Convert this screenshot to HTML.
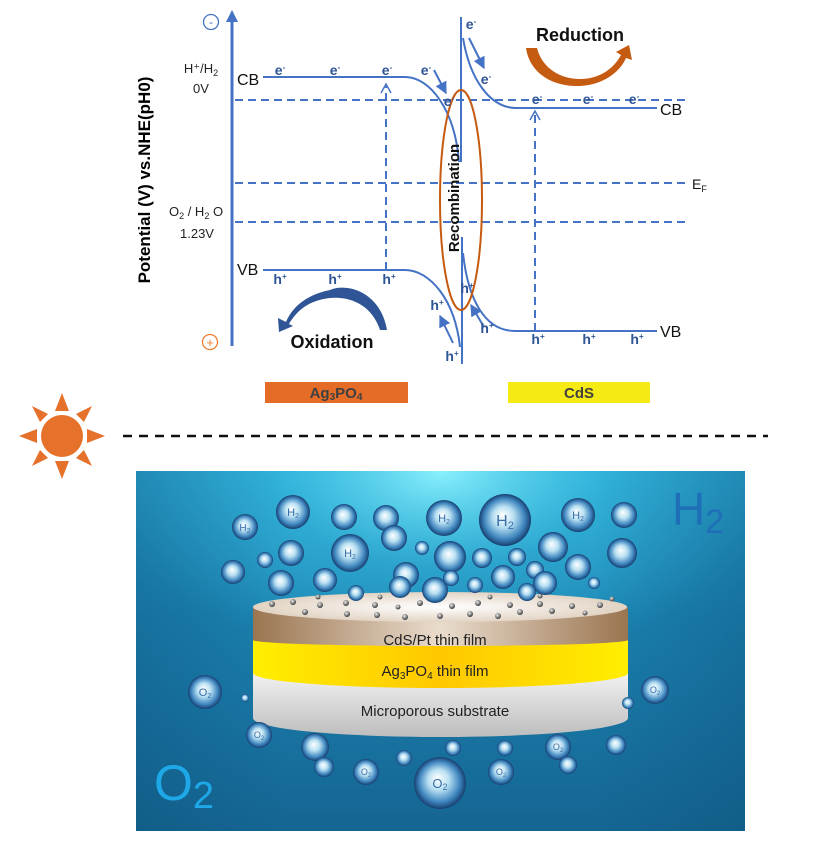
<!DOCTYPE html>
<html><head><meta charset="utf-8"><style>
html,body{margin:0;padding:0;background:#fff}
svg{display:block}
text{font-family:"Liberation Sans","DejaVu Sans",sans-serif}
</style></head><body>
<svg width="836" height="846" viewBox="0 0 836 846" xmlns="http://www.w3.org/2000/svg">
<defs>
<radialGradient id="bub" cx="0.5" cy="0.5" r="0.5" fx="0.45" fy="0.4">
<stop offset="0" stop-color="#ffffff"/><stop offset="0.4" stop-color="#b9e0f2"/><stop offset="0.78" stop-color="#3f86bf"/><stop offset="1" stop-color="#173f70"/></radialGradient>
<linearGradient id="water" x1="0" y1="0" x2="0" y2="1"><stop offset="0" stop-color="#2aa9d4"/><stop offset="0.4" stop-color="#1b82b0"/><stop offset="1" stop-color="#156592"/></linearGradient>
<radialGradient id="glow" cx="0.5" cy="0" r="0.55"><stop offset="0" stop-color="#8ff4ff" stop-opacity="0.95"/><stop offset="0.5" stop-color="#40c8ea" stop-opacity="0.35"/><stop offset="1" stop-color="#40c8ea" stop-opacity="0"/></radialGradient>
<linearGradient id="vig" x1="0" y1="0" x2="1" y2="0"><stop offset="0" stop-color="#0d4f7a" stop-opacity="0.35"/><stop offset="0.25" stop-color="#0d4f7a" stop-opacity="0"/><stop offset="0.75" stop-color="#0d4f7a" stop-opacity="0"/><stop offset="1" stop-color="#0d4f7a" stop-opacity="0.35"/></linearGradient>
<linearGradient id="brown" x1="0" y1="0" x2="1" y2="0"><stop offset="0" stop-color="#9a7550"/><stop offset="0.5" stop-color="#eadccd"/><stop offset="1" stop-color="#9a7550"/></linearGradient>
<linearGradient id="yel" x1="0" y1="0" x2="1" y2="0"><stop offset="0" stop-color="#ffee00"/><stop offset="0.5" stop-color="#ffc800"/><stop offset="1" stop-color="#ffee00"/></linearGradient>
<linearGradient id="gray" x1="0" y1="0" x2="0" y2="1"><stop offset="0" stop-color="#f2f2f2"/><stop offset="1" stop-color="#bdbdbd"/></linearGradient>
<radialGradient id="top" cx="0.5" cy="0.5" r="0.6"><stop offset="0" stop-color="#ffffff"/><stop offset="1" stop-color="#dccbb8"/></radialGradient>
<radialGradient id="pt" cx="0.4" cy="0.35" r="0.6"><stop offset="0" stop-color="#eee"/><stop offset="1" stop-color="#444"/></radialGradient>
<marker id="ah" viewBox="0 0 10 10" refX="9" refY="5" markerWidth="6" markerHeight="6" orient="auto"><path d="M0,0 L10,5 L0,10 z" fill="#4472c4"/></marker>
</defs>

<!-- axis -->
<line x1="232" y1="346" x2="232" y2="20" stroke="#4472c4" stroke-width="3"/>
<path d="M226,22 L232,10 L238,22 z" fill="#4472c4"/>
<circle cx="211" cy="22" r="7.5" fill="none" stroke="#4472c4" stroke-width="1.3"/>
<text x="211" y="26" font-size="12" fill="#4472c4" text-anchor="middle">-</text>
<circle cx="210" cy="342" r="7.5" fill="none" stroke="#ed7d31" stroke-width="1.3"/>
<text x="210" y="347" font-size="13" fill="#ed7d31" text-anchor="middle">+</text>
<text transform="translate(150,180) rotate(-90)" font-size="17" font-weight="bold" text-anchor="middle" fill="#000">Potential (V) vs.NHE(pH0)</text>
<text x="201" y="73" font-size="13" text-anchor="middle" fill="#222">H⁺/H<tspan font-size="9" dy="3">2</tspan></text>
<text x="201" y="93" font-size="13" text-anchor="middle" fill="#222">0V</text>
<text x="196" y="216" font-size="13" text-anchor="middle" fill="#222">O<tspan font-size="9" dy="3">2</tspan><tspan dy="-3"> / H</tspan><tspan font-size="9" dy="3">2</tspan><tspan dy="-3"> O</tspan></text>
<text x="197" y="238" font-size="13" text-anchor="middle" fill="#222">1.23V</text>
<text x="237" y="85" font-size="16" fill="#111">CB</text>
<text x="237" y="275" font-size="16" fill="#111">VB</text>
<text x="660" y="115" font-size="16" fill="#111">CB</text>
<text x="660" y="337" font-size="16" fill="#111">VB</text>
<text x="692" y="189" font-size="14" fill="#111">E<tspan font-size="9" dy="3">F</tspan></text>

<g stroke="#4472c4" stroke-width="2" stroke-dasharray="8,5" fill="none">
<line x1="235" y1="100" x2="690" y2="100"/>
<line x1="235" y1="183" x2="690" y2="183"/>
<line x1="235" y1="222" x2="690" y2="222"/>
<line x1="386" y1="270" x2="386" y2="86"/>
<line x1="535" y1="331" x2="535" y2="113"/>
</g>
<path d="M381,93 L386,84 L391,93" fill="none" stroke="#4472c4" stroke-width="1.5"/>
<path d="M530,120 L535,111 L540,120" fill="none" stroke="#4472c4" stroke-width="1.5"/>

<g stroke="#4472c4" stroke-width="2" fill="none">
<path d="M263,77 L405,77 C430,77 455,110 459,162"/>
<path d="M263,270 L405,270 C430,270 455,300 460,347"/>
<path d="M463,38 C470,80 490,107 515,108 L657,108"/>
<path d="M463,253 C468,300 485,331 515,331 L657,331"/>
<line x1="461" y1="17" x2="461" y2="162"/>
<line x1="462" y1="237" x2="462" y2="364"/>
<line x1="434" y1="70" x2="446" y2="93" marker-end="url(#ah)"/>
<line x1="469" y1="38" x2="484" y2="68" marker-end="url(#ah)"/>
<line x1="453" y1="343" x2="440" y2="316" marker-end="url(#ah)"/>
<line x1="484" y1="327" x2="471" y2="305" marker-end="url(#ah)"/>
</g>
<ellipse cx="461" cy="200" rx="21" ry="110" fill="none" stroke="#c55a11" stroke-width="2"/>
<text transform="translate(459,198) rotate(-90)" font-size="15" font-weight="bold" text-anchor="middle" fill="#111">Recombination</text>

<g font-size="14" font-weight="bold" fill="#2f5597" text-anchor="middle">
<text x="280" y="75">e<tspan font-size="8" dy="-5">-</tspan></text>
<text x="335" y="75">e<tspan font-size="8" dy="-5">-</tspan></text>
<text x="387" y="75">e<tspan font-size="8" dy="-5">-</tspan></text>
<text x="426" y="75">e<tspan font-size="8" dy="-5">-</tspan></text>
<text x="449" y="106">e<tspan font-size="8" dy="-5">-</tspan></text>
<text x="471" y="29">e<tspan font-size="8" dy="-5">-</tspan></text>
<text x="486" y="84">e<tspan font-size="8" dy="-5">-</tspan></text>
<text x="537" y="104">e<tspan font-size="8" dy="-5">-</tspan></text>
<text x="588" y="104">e<tspan font-size="8" dy="-5">-</tspan></text>
<text x="634" y="104">e<tspan font-size="8" dy="-5">-</tspan></text>
<text x="280" y="284">h<tspan font-size="8" dy="-5">+</tspan></text>
<text x="335" y="284">h<tspan font-size="8" dy="-5">+</tspan></text>
<text x="389" y="284">h<tspan font-size="8" dy="-5">+</tspan></text>
<text x="437" y="310">h<tspan font-size="8" dy="-5">+</tspan></text>
<text x="452" y="361">h<tspan font-size="8" dy="-5">+</tspan></text>
<text x="467" y="293">h<tspan font-size="8" dy="-5">+</tspan></text>
<text x="487" y="333">h<tspan font-size="8" dy="-5">+</tspan></text>
<text x="538" y="344">h<tspan font-size="8" dy="-5">+</tspan></text>
<text x="589" y="344">h<tspan font-size="8" dy="-5">+</tspan></text>
<text x="637" y="344">h<tspan font-size="8" dy="-5">+</tspan></text>
</g>

<path d="M387,330 C380,290 345,283 330,290 C305,295 292,308 286,322 L278,318 L279,332 L293,326 L289,324 C297,310 310,300 330,298 C350,296 372,305 380,330 z" fill="#2f5597"/>
<text x="332" y="348" font-size="18" font-weight="bold" text-anchor="middle" fill="#111">Oxidation</text>
<path d="M526,48 C530,75 555,87 580,86 C603,85 620,72 626,58 L632,60 L629,45 L616,52 L621,55 C613,70 598,79 580,79 C560,79 542,68 537,48 z" fill="#c55a11"/>
<text x="580" y="41" font-size="18" font-weight="bold" text-anchor="middle" fill="#111">Reduction</text>

<rect x="265" y="382" width="143" height="21" fill="#e46c26"/>
<text x="336" y="398" font-size="15" font-weight="bold" text-anchor="middle" fill="#404040">Ag<tspan font-size="10" dy="2">3</tspan><tspan dy="-2">PO</tspan><tspan font-size="10" dy="2">4</tspan></text>
<rect x="508" y="382" width="142" height="21" fill="#f5ea14"/>
<text x="579" y="398" font-size="15" font-weight="bold" text-anchor="middle" fill="#404040">CdS</text>

<g fill="#e5712a">
<circle cx="62" cy="436" r="21"/>
<path d="M62,393 L55,411 L69,411 z"/>
<path d="M62,479 L55,461 L69,461 z"/>
<path d="M19,436 L37,429 L37,443 z"/>
<path d="M105,436 L87,429 L87,443 z"/>
<path d="M32,406 L48,414 L40,422 z"/>
<path d="M92,406 L84,422 L76,414 z"/>
<path d="M32,466 L40,450 L48,458 z"/>
<path d="M92,466 L76,458 L84,450 z"/>
</g>
<line x1="123" y1="436" x2="768" y2="436" stroke="#111" stroke-width="2.5" stroke-dasharray="9,7"/>

<rect x="136" y="471" width="609" height="360" fill="url(#water)"/>
<rect x="136" y="471" width="609" height="360" fill="url(#glow)"/>
<rect x="136" y="471" width="609" height="360" fill="url(#vig)"/>
<text x="672" y="525" font-size="46" fill="#1e6fb8">H<tspan font-size="34" dy="8">2</tspan></text>
<text x="154" y="800" font-size="50" fill="#1ea8e8">O<tspan font-size="38" dy="8">2</tspan></text>

<path d="M253,718 A187,19 0 0 0 628,718 L628,673 L253,673 z" fill="url(#gray)"/>
<path d="M253,673 A187,15 0 0 0 628,673 L628,640 L253,640 z" fill="url(#yel)"/>
<path d="M253,640 A187,6 0 0 0 628,640 L628,607 L253,607 z" fill="url(#brown)"/>
<ellipse cx="440" cy="607" rx="187" ry="15" fill="url(#top)"/>
<g fill="url(#pt)">
<circle cx="272" cy="604" r="3"/><circle cx="293" cy="602" r="3"/><circle cx="320" cy="605" r="3"/><circle cx="305" cy="612" r="3"/><circle cx="346" cy="603" r="3"/><circle cx="375" cy="605" r="3"/><circle cx="398" cy="607" r="2.5"/><circle cx="420" cy="603" r="3"/><circle cx="347" cy="614" r="3"/><circle cx="377" cy="615" r="3"/><circle cx="405" cy="617" r="3"/><circle cx="440" cy="616" r="3"/><circle cx="470" cy="614" r="3"/><circle cx="498" cy="616" r="3"/><circle cx="520" cy="612" r="3"/><circle cx="552" cy="611" r="3"/><circle cx="572" cy="606" r="3"/><circle cx="600" cy="605" r="3"/><circle cx="585" cy="613" r="2.5"/><circle cx="540" cy="604" r="3"/><circle cx="510" cy="605" r="3"/><circle cx="478" cy="603" r="3"/><circle cx="452" cy="606" r="3"/><circle cx="436" cy="597" r="2.5"/><circle cx="490" cy="597" r="2.5"/><circle cx="540" cy="596" r="2.5"/><circle cx="318" cy="597" r="2.5"/><circle cx="380" cy="597" r="2.5"/><circle cx="612" cy="599" r="2.5"/>
</g>
<text x="435" y="645" font-size="15" text-anchor="middle" fill="#222">CdS/Pt thin film</text>
<text x="435" y="676" font-size="15" text-anchor="middle" fill="#222">Ag<tspan font-size="10" dy="3">3</tspan><tspan dy="-3">PO</tspan><tspan font-size="10" dy="3">4</tspan><tspan dy="-3"> thin film</tspan></text>
<text x="435" y="716" font-size="15" text-anchor="middle" fill="#222">Microporous substrate</text>

<g fill="url(#bub)">
<circle cx="245" cy="527" r="13"/><circle cx="293" cy="512" r="17"/><circle cx="344" cy="517" r="13"/><circle cx="386" cy="518" r="13"/><circle cx="444" cy="518" r="18"/><circle cx="505" cy="520" r="26"/><circle cx="578" cy="515" r="17"/><circle cx="624" cy="515" r="13"/><circle cx="350" cy="553" r="19"/><circle cx="394" cy="538" r="13"/><circle cx="291" cy="553" r="13"/><circle cx="265" cy="560" r="8"/><circle cx="233" cy="572" r="12"/><circle cx="281" cy="583" r="13"/><circle cx="325" cy="580" r="12"/><circle cx="422" cy="548" r="7"/><circle cx="450" cy="557" r="16"/><circle cx="482" cy="558" r="10"/><circle cx="517" cy="557" r="9"/><circle cx="553" cy="547" r="15"/><circle cx="578" cy="567" r="13"/><circle cx="622" cy="553" r="15"/><circle cx="594" cy="583" r="6"/><circle cx="406" cy="575" r="13"/><circle cx="400" cy="587" r="11"/><circle cx="435" cy="590" r="13"/><circle cx="451" cy="578" r="8"/><circle cx="475" cy="585" r="8"/><circle cx="503" cy="577" r="12"/><circle cx="535" cy="570" r="9"/><circle cx="545" cy="583" r="12"/><circle cx="527" cy="592" r="9"/><circle cx="356" cy="593" r="8"/>
<circle cx="205" cy="692" r="17"/><circle cx="245" cy="698" r="4"/><circle cx="259" cy="735" r="13"/><circle cx="315" cy="747" r="14"/><circle cx="324" cy="767" r="10"/><circle cx="366" cy="772" r="13"/><circle cx="404" cy="758" r="8"/><circle cx="440" cy="783" r="26"/><circle cx="453" cy="748" r="8"/><circle cx="501" cy="772" r="13"/><circle cx="505" cy="748" r="8"/><circle cx="558" cy="747" r="13"/><circle cx="568" cy="765" r="9"/><circle cx="616" cy="745" r="10"/><circle cx="655" cy="690" r="14"/><circle cx="628" cy="703" r="6"/>
</g>
<g fill="#3a6fa8" text-anchor="middle">
<text x="245" y="531" font-size="10">H<tspan font-size="7" dy="2">2</tspan></text>
<text x="293" y="516" font-size="11">H<tspan font-size="7" dy="2">2</tspan></text>
<text x="444" y="522" font-size="11">H<tspan font-size="7" dy="2">2</tspan></text>
<text x="505" y="526" font-size="16">H<tspan font-size="11" dy="3">2</tspan></text>
<text x="578" y="519" font-size="11">H<tspan font-size="7" dy="2">2</tspan></text>
<text x="350" y="557" font-size="11">H<tspan font-size="7" dy="2">2</tspan></text>
<text x="205" y="696" font-size="11">O<tspan font-size="7" dy="2">2</tspan></text>
<text x="259" y="738" font-size="9">O<tspan font-size="6" dy="2">2</tspan></text>
<text x="366" y="775" font-size="9">O<tspan font-size="6" dy="2">2</tspan></text>
<text x="440" y="788" font-size="13">O<tspan font-size="9" dy="2">2</tspan></text>
<text x="501" y="775" font-size="9">O<tspan font-size="6" dy="2">2</tspan></text>
<text x="558" y="750" font-size="9">O<tspan font-size="6" dy="2">2</tspan></text>
<text x="655" y="693" font-size="9">O<tspan font-size="6" dy="2">2</tspan></text>
</g>
</svg>
</body></html>
